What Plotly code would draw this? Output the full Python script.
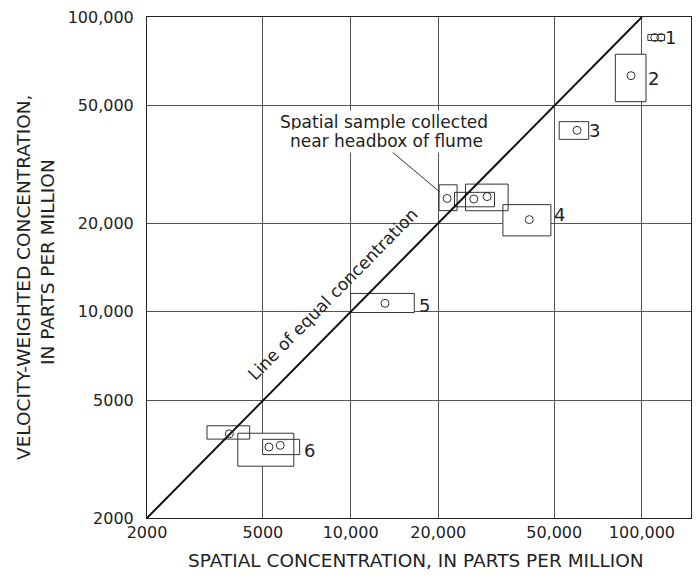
import numpy as np
import plotly.graph_objects as go

# ---------------- data ----------------
tick_vals = [2000, 5000, 10000, 20000, 50000, 100000]
tick_text = ["2000", "5000", "10,000", "20,000", "50,000", "100,000"]

# range boxes (spatial = x, velocity-weighted = y), parts per million
box_x0 = [104800, 81040, 52000, 20120, 22730, 24800, 33330, 10000, 3214, 4100, 4989]
box_x1 = [119600, 103300, 65660, 23200, 31180, 34720, 48700, 16540, 4504, 6383, 6683]
box_y0 = [83250, 51630, 38470, 22050, 22720, 22030, 18100, 9950, 3703, 2997, 3281]
box_y1 = [87250, 74770, 44170, 26970, 25430, 27120, 23110, 11550, 4109, 3877, 3697]

# individual samples
pt_x = [110700, 116100, 91750, 59880, 21440, 26480, 29410, 41060, 13120, 3834, 5243, 5732]
pt_y = [85200, 85200, 63240, 41270, 24250, 24140, 24600, 20550, 10690, 3859, 3481, 3527]

# group numbers
label_text = ["1", "2", "3", "4", "5", "6"]
label_x = [125000, 109500, 69000, 52090, 17910, 7242]
label_y = [85070, 61870, 41180, 21440, 10500, 3385]

# line of equal concentration
eq_x = [2000, 100000]
eq_y = [2000, 100000]

# note about headbox sample
note_lines = ["Spatial sample collected", "near headbox of flume"]
note_x = [12970, 13250]
note_y = [44130, 38040]
leader_x = [13590, 20250]
leader_y = [35520, 25490]

FONT = "DejaVu Sans"
INK = "#222222"

fig = go.Figure()

# white fills of boxes (hide grid)
for x0, x1, y0, y1 in zip(box_x0, box_x1, box_y0, box_y1):
    fig.add_trace(go.Scatter(
        x=[x0, x1, x1, x0, x0], y=[y0, y0, y1, y1, y0],
        mode="lines", fill="toself", fillcolor="white",
        line=dict(width=0, color="white"), hoverinfo="skip", showlegend=False))
# box outlines
for x0, x1, y0, y1 in zip(box_x0, box_x1, box_y0, box_y1):
    fig.add_trace(go.Scatter(
        x=[x0, x1, x1, x0, x0], y=[y0, y0, y1, y1, y0],
        mode="lines", line=dict(width=1, color="#333333"),
        hoverinfo="skip", showlegend=False))

# line of equal concentration
fig.add_trace(go.Scatter(x=eq_x, y=eq_y, mode="lines",
                         line=dict(width=2, color="#111111"), showlegend=False))

# leader line
fig.add_trace(go.Scatter(x=leader_x, y=leader_y, mode="lines",
                         line=dict(width=1, color="#333333"), showlegend=False))

# sample points
fig.add_trace(go.Scatter(x=pt_x, y=pt_y, mode="markers",
                         marker=dict(symbol="circle-open", size=8,
                                     line=dict(width=1, color="#333333"), color="#333333"),
                         showlegend=False))

annotations = []
for t, x, y in zip(label_text, label_x, label_y):
    annotations.append(dict(x=np.log10(x), y=np.log10(y), xref="x", yref="y",
                            text=t, showarrow=False, xanchor="center", yanchor="middle",
                            font=dict(family=FONT, size=18, color=INK)))
for t, x, y in zip(note_lines, note_x, note_y):
    annotations.append(dict(x=np.log10(x), y=np.log10(y), xref="x", yref="y",
                            text=t, showarrow=False, xanchor="center", yanchor="middle",
                            bgcolor="white", borderpad=1,
                            font=dict(family=FONT, size=17, color=INK)))
annotations.append(dict(x=np.log10(10014), y=np.log10(10014), xref="x", yref="y",
                        text="Line of equal concentration", showarrow=False,
                        textangle=-45.4, xshift=-18, yshift=18,
                        font=dict(family=FONT, size=17, color=INK)))
# axis titles
annotations.append(dict(x=0.4945, y=-0.084, xref="paper", yref="paper",
                        text="SPATIAL CONCENTRATION, IN PARTS PER MILLION",
                        showarrow=False, xanchor="center", yanchor="middle",
                        font=dict(family=FONT, size=18.5, color=INK)))
annotations.append(dict(x=-0.228, y=0.481, xref="paper", yref="paper",
                        text="VELOCITY-WEIGHTED CONCENTRATION,", textangle=-90,
                        showarrow=False, xanchor="center", yanchor="middle",
                        font=dict(family=FONT, size=18.5, color=INK)))
annotations.append(dict(x=-0.182, y=0.511, xref="paper", yref="paper",
                        text="IN PARTS PER MILLION", textangle=-90,
                        showarrow=False, xanchor="center", yanchor="middle",
                        font=dict(family=FONT, size=18.5, color=INK)))

axis_common = dict(
    type="log", tickvals=tick_vals, ticktext=tick_text,
    showgrid=True, gridcolor="#555555", gridwidth=1,
    showline=True, linecolor="#222222", linewidth=1, mirror=True,
    ticks="", zeroline=False, ticklabeloverflow="allow", automargin=False,
    tickfont=dict(family=FONT, size=16, color=INK),
)

# page body has an 8px margin, so the figure is sized/offset to fill the window
fig.update_layout(
    width=692, height=568,
    margin=dict(l=139, r=9, t=9, b=58),
    paper_bgcolor="white", plot_bgcolor="white",
    xaxis=dict(range=[np.log10(2000), 5.1685], ticklabelstandoff=0, **axis_common),
    yaxis=dict(range=[np.log10(2000), 5.0], ticklabelstandoff=9, **axis_common),
    annotations=annotations,
    showlegend=False,
)

fig.write_html("out.html")
